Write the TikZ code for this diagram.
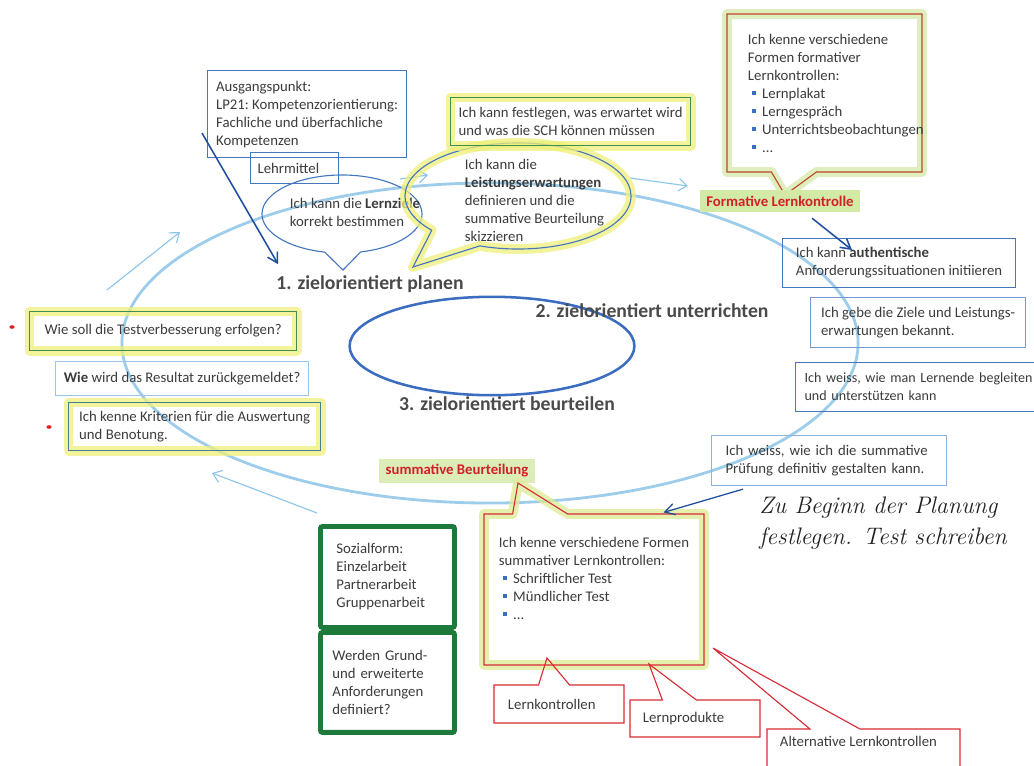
\documentclass[tikz,border=0pt]{standalone}
\usepackage{fontspec}
\usepackage{tikz}
\usetikzlibrary{shapes,shapes.callouts,arrows.meta,positioning,calc}
\newfontfamily\calib{Carlito}
\definecolor{txtgray}{HTML}{3C3C3C}
\definecolor{lblgray}{HTML}{4A4A4A}
\definecolor{boxblue}{HTML}{4677BE}
\definecolor{paleblue}{HTML}{9DC3E6}
\definecolor{ringblue}{HTML}{8CC5E8}
\definecolor{ovalblue}{HTML}{3A6CC0}
\definecolor{darkarrow}{HTML}{1F4F9E}
\definecolor{boxgreen}{HTML}{3E8E4E}
\definecolor{thickgreen}{HTML}{1D7A3A}
\definecolor{hlyellow}{HTML}{EEF07A}
\definecolor{hlgreen}{HTML}{D3E9A6}
\definecolor{calred}{HTML}{D92B35}
\definecolor{brownred}{HTML}{C0452E}
\definecolor{lblred}{HTML}{D0202A}
\definecolor{bulblue}{HTML}{3A6EC0}
\definecolor{inkblack}{HTML}{222222}
\definecolor{dotred}{HTML}{E02020}
\newcommand{\bul}{\hspace*{0.1cm}\textcolor{bulblue}{\rule[0.22em]{0.26em}{0.26em}}\hspace{0.16cm}}

\begin{document}
\begin{tikzpicture}[
    x=0.025cm, y=-0.025cm,
    txt/.style={font=\calib\fontsize{10.5}{12.8}\selectfont\frenchspacing, text=txtgray, align=left},
    box/.style={txt, draw=boxblue, line width=0.8pt, anchor=north west, inner xsep=2pt, inner ysep=0pt},
    greenbox/.style={box, draw=thickgreen, line width=3.5pt, rounded corners=1.5pt},
    glow/.style={preaction={draw=#1, line width=7pt, line join=round, opacity=0.75}},
    bubble/.style={ellipse callout, draw=boxblue, line width=0.8pt},
    callbox/.style={rectangle callout, draw=calred, line width=0.8pt},
    phase/.style={font=\calib\bfseries\fontsize{14}{16}\selectfont, text=lblgray, inner sep=0pt},
    redlabel/.style={font=\calib\bfseries\fontsize{10.5}{12}\selectfont, text=lblred, fill=hlgreen, inner xsep=4.5pt, inner ysep=4pt},
    hand/.style={font=\itshape\fontsize{17}{22}\selectfont, text=inkblack, align=left, inner sep=0pt},
    reddot/.style={ellipse, fill=dotred, inner sep=0pt, minimum width=0.13cm, minimum height=0.09cm},
    darr/.style={-{Straight Barb[length=7pt,width=8pt]}, draw=darkarrow, line width=1.1pt},
    ringarr/.style={-{Straight Barb[length=6pt,width=9pt]}, draw=ringblue, line width=0.8pt}
]
    \fill[white] (0,0) rectangle (1034,765);
    \useasboundingbox (0,0) rectangle (1034,765);

    % cycle
    \draw[ringblue, line width=2pt, opacity=0.85] (490,343) ellipse [x radius=9.2cm, y radius=4cm];
    \draw[ovalblue, line width=1.8pt] (492,346) ellipse [x radius=3.56cm, y radius=1.23cm];
    \draw[ringarr] (107,290) -- (180,232);
    \draw[ringarr] (317,513) -- (212,473);
    \draw[ringarr] (630,178) -- (688,186);
    \draw[ringarr] (400,179) -- (428,175);

    \node[phase] (plan) at (370,284) {1. zielorientiert planen};
    \node[phase] (unterr) at (652,311) {2. zielorientiert unterrichten};
    \node[phase] (beurt) at (507,404) {3. zielorientiert beurteilen};

    % planen
    \node[box, minimum width=4.975cm, minimum height=2.175cm] (ausg) at (207,70)
        {Ausgangspunkt:\\LP21: Kompetenzorientierung:\\Fachliche und überfachliche\\Kompetenzen};
    \node[box, minimum width=2.2cm, minimum height=0.775cm, text width=1.85cm, inner xsep=0.175cm] (lehrm) at (250,152) {Lehrmittel};
    \node[bubble, minimum width=4cm, minimum height=1.95cm, callout absolute pointer={(343,270)}, callout pointer arc=26] (ziele) at (342,214) {};
    \node[txt, anchor=west] (zieletxt) at (285,212) {Ich kann die \textbf{Lernziele}\\korrekt bestimmen};
    \node[bubble, glow=hlyellow, minimum width=5.65cm, minimum height=2.65cm, callout absolute pointer={(413,267)}, callout pointer arc=30] (leist) at (518,196) {};
    \node[txt, anchor=west] (leisttxt) at (460,200)
        {Ich kann die\\\textbf{Leistungserwartungen}\\definieren und die\\summative Beurteilung\\skizzieren};
    \node[box, draw=boxgreen, glow=hlyellow, minimum width=6cm, minimum height=1.2cm] (festl) at (450,97)
        {Ich kann festlegen, was erwartet wird\\und was die SCH können müssen};

    % unterrichten
    \node[callbox, draw=brownred, glow=hlgreen, minimum width=4.875cm, minimum height=3.95cm, callout absolute pointer={(785,195)}, callout pointer width=1.125cm] (formbox) at (824.5,93) {};
    \node[txt, anchor=west] (formtxt) at (743,93)
        {Ich kenne verschiedene\\Formen formativer\\Lernkontrollen:\\\bul Lernplakat\\\bul Lerngespräch\\\bul Unterrichtsbeobachtungen\\\bul ...};
    \node[redlabel] (formlbl) at (780,201) {Formative Lernkontrolle};
    \node[box, minimum width=5.825cm, minimum height=1.225cm] (auth) at (782,238)
        {Ich kann \textbf{authentische}\\Anforderungssituationen initiieren};
    \node[box, draw=boxblue!75, minimum width=5.375cm, minimum height=1.25cm] (bekannt) at (810,297)
        {Ich gebe die Ziele und Leistungs-\\erwartungen bekannt.};
    \node[box, minimum height=1.225cm, text width=6.3cm, inner xsep=0.225cm, font=\calib\fontsize{10}{12.8}\selectfont] (begl) at (795,362)
        {Ich weiss, wie man Lernende begleiten\\und unterstützen kann};
    \node[box, draw=paleblue!80!boxblue, minimum height=1.25cm, text width=5.175cm, inner xsep=0.35cm] (pruef) at (711,435)
        {Ich weiss, wie ich die summative\\Prüfung definitiv gestalten kann.};
    \node[hand, anchor=west] (notiz) at (759,523) {Zu Beginn der Planung\\festlegen. Test schreiben};

    % beurteilen
    \node[redlabel, fill=hlgreen!80] (summlbl) at (457,471) {summative Beurteilung};
    \node[callbox, glow=hlgreen!60!hlyellow, minimum width=5.5cm, minimum height=3.775cm, callout absolute pointer={(518,483)}, callout pointer width=1.375cm] (summbox) at (594,589.5) {};
    \node[txt, anchor=west] (summtxt) at (494,578)
        {Ich kenne verschiedene Formen\\summativer Lernkontrollen:\\\bul Schriftlicher Test\\\bul Mündlicher Test\\\bul ...};
    \node[callbox, txt, minimum width=3.25cm, minimum height=0.95cm, text width=2.55cm, inner xsep=0.35cm, callout absolute pointer={(547,658)}, callout pointer width=0.775cm] (lk) at (559,704) {Lernkontrollen};
    \node[callbox, txt, minimum width=3.25cm, minimum height=0.925cm, text width=2.6cm, inner xsep=0.325cm, callout absolute pointer={(649,664)}, callout pointer width=0.85cm] (lp) at (695,718.5) {Lernprodukte};
    \node[callbox, minimum width=4.825cm, minimum height=0.95cm, callout absolute pointer={(713,648)}, callout pointer width=1.25cm] (alt) at (863.5,748) {};
    \node[txt, anchor=west] (alttxt) at (775,741) {Alternative Lernkontrollen};

    \node[greenbox, minimum height=2.525cm, text width=2.55cm, inner xsep=0.4cm] (sozial) at (318,524)
        {Sozialform:\\Einzelarbeit\\Partnerarbeit\\Gruppenarbeit};
    \node[greenbox, minimum height=2.5cm, text width=2.75cm, inner xsep=0.3cm, below=0pt of sozial] (grund)
        {Werden Grund-\\und erweiterte\\Anforderungen\\definiert?};

    \node[box, draw=boxgreen, glow=hlyellow, minimum width=6.675cm, minimum height=0.975cm] (testv) at (29,311)
        {Wie soll die Testverbesserung erfolgen?};
    \node[box, draw=paleblue, minimum width=6.325cm, minimum height=0.85cm] (rueck) at (55,361)
        {\textbf{Wie} wird das Resultat zurückgemeldet?};
    \node[box, draw=boxblue!60!boxgreen, glow=hlyellow, minimum width=6.3cm, minimum height=1.2cm] (krit) at (68,402)
        {Ich kenne Kriterien für die Auswertung\\und Benotung.};
    \node[reddot] (dot1) at (12,327) {};
    \node[reddot] (dot2) at (49,427) {};

    \draw[darr] ([shift={(-5,19)}]ausg.west) -- ([shift={(2,-11)}]plan.north west);
    \draw[darr] ([shift={(32,6)}]formlbl.south) -- ([shift={(70,12)}]auth.north west);
    \draw[darr, line width=0.9pt] ([shift={(32,3)}]pruef.south west) -- ([shift={(-41,-1)}]summbox.north east);
\end{tikzpicture}
\end{document}
